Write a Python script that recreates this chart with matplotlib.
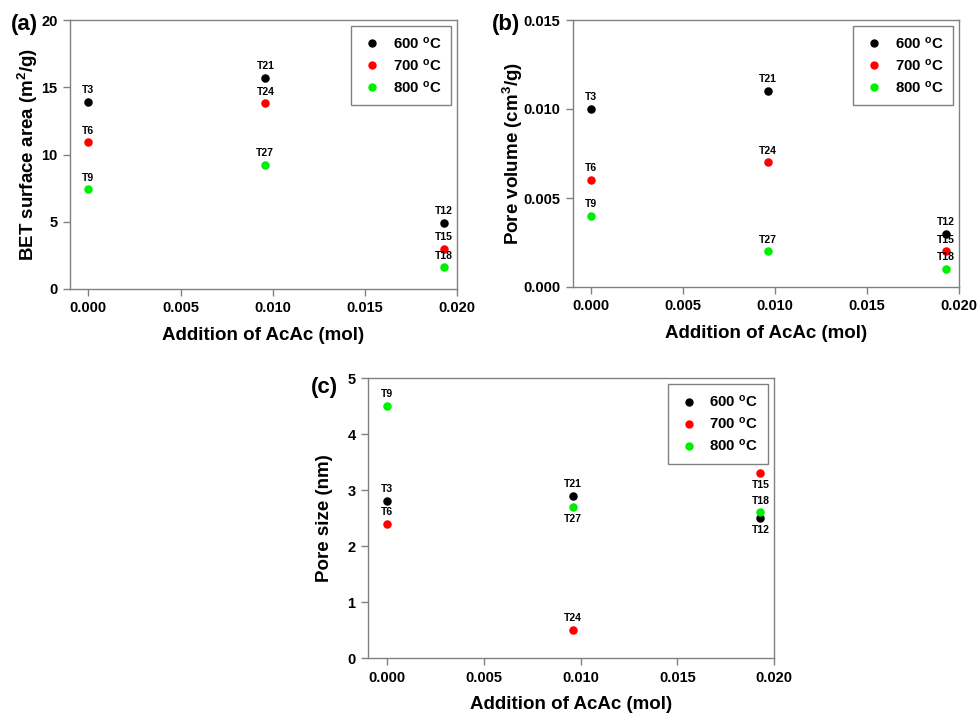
import matplotlib
matplotlib.use("Agg")
import matplotlib.pyplot as plt
from matplotlib.lines import Line2D

plt.rcParams['font.family'] = ['Liberation Sans', 'DejaVu Sans']
plt.rcParams['font.weight'] = 'bold'
plt.rcParams['mathtext.fontset'] = 'custom'
plt.rcParams['mathtext.rm'] = 'Liberation Sans:bold'
plt.rcParams['mathtext.it'] = 'Liberation Sans:bold'
plt.rcParams['mathtext.bf'] = 'Liberation Sans:bold'

# Data
x_vals = [0.0, 0.0096, 0.0193]
temps = ['600', '700', '800']
colors = ['black', '#ff0000', '#00ee00']

labels_600 = ['T3', 'T21', 'T12']
labels_700 = ['T6', 'T24', 'T15']
labels_800 = ['T9', 'T27', 'T18']

bet_600 = [13.9, 15.7, 4.9]
bet_700 = [10.9, 13.8, 3.0]
bet_800 = [7.4, 9.2, 1.6]

pv_600 = [0.010, 0.011, 0.003]
pv_700 = [0.006, 0.007, 0.002]
pv_800 = [0.004, 0.002, 0.001]

ps_600 = [2.8, 2.9, 2.5]
ps_700 = [2.4, 0.5, 3.3]
ps_800 = [4.5, 2.7, 2.6]

W, H = 977, 716
fig = plt.figure(figsize=(W / 100, H / 100), dpi=100)


def make_ax(l, r, t, b):
    return fig.add_axes([l / W, 1 - b / H, (r - l) / W, (b - t) / H])


spine_col = '#808080'


def style(ax, ylim, yticks, yfmt, ylabel, panel, lab_pad, panel_x, panel_y):
    ax.set_xlim(-0.001, 0.020)
    ax.set_ylim(*ylim)
    ax.set_xticks([0.0, 0.005, 0.010, 0.015, 0.020])
    ax.set_xticklabels(['0.000', '0.005', '0.010', '0.015', '0.020'])
    ax.set_yticks(yticks)
    ax.set_yticklabels([yfmt.format(v) for v in yticks])
    for s in ax.spines.values():
        s.set_color(spine_col)
        s.set_linewidth(1.0)
    ax.tick_params(direction='out', length=5, width=1, color=spine_col,
                   labelsize=10.5, pad=4)
    for lbl in ax.get_xticklabels() + ax.get_yticklabels():
        lbl.set_fontweight('bold')
    ax.set_xlabel('Addition of AcAc (mol)', fontsize=13.5, fontweight='bold', labelpad=8)
    ax.set_ylabel(ylabel, fontsize=13.5, fontweight='bold', labelpad=lab_pad)
    ax.text(panel_x, panel_y, panel, transform=ax.transAxes, ha='right', va='center',
            fontsize=16, fontweight='bold')
    handles = [Line2D([], [], marker='o', linestyle='none', color=c, markersize=5)
               for c in colors]
    names = [t + r' $^{\mathrm{o}}$C' for t in temps]
    leg = ax.legend(handles, names, loc='upper right', bbox_to_anchor=(0.984, 0.978),
                    borderaxespad=0, fancybox=False, frameon=True, edgecolor=spine_col,
                    framealpha=1, fontsize=10.8, labelspacing=0.4, handletextpad=0.6,
                    borderpad=0.65, handlelength=1.5)
    leg.get_frame().set_linewidth(1.0)
    for t in leg.get_texts():
        t.set_fontweight('bold')


def plot_series(ax, ys, labels, color, positions):
    ax.scatter(x_vals, ys, s=26, color=color, zorder=3, clip_on=False)
    for x, y, lab, pos in zip(x_vals, ys, labels, positions):
        dy = 8.5 if pos == 'above' else -8.5
        ax.annotate(lab, (x, y), xytext=(0, dy), textcoords='offset points',
                    ha='center', va='center', fontsize=7.5, fontweight='bold')


# Panel (a)
axa = make_ax(70, 457, 20, 289)
style(axa, (0, 20), [0, 5, 10, 15, 20], '{:g}', r'BET surface area (m$^{2}$/g)', '(a)', 1,
      -0.083, 0.985)
plot_series(axa, bet_600, labels_600, colors[0], ['above'] * 3)
plot_series(axa, bet_700, labels_700, colors[1], ['above'] * 3)
plot_series(axa, bet_800, labels_800, colors[2], ['above'] * 3)

# Panel (b)
axb = make_ax(573, 959, 20, 287)
style(axb, (0, 0.015), [0.0, 0.005, 0.010, 0.015], '{:.3f}', r'Pore volume (cm$^{3}$/g)', '(b)', -1,
      -0.137, 0.985)
plot_series(axb, pv_600, labels_600, colors[0], ['above'] * 3)
plot_series(axb, pv_700, labels_700, colors[1], ['above'] * 3)
plot_series(axb, pv_800, labels_800, colors[2], ['above'] * 3)

# Panel (c)
axc = make_ax(368, 774, 378, 658)
style(axc, (0, 5), [0, 1, 2, 3, 4, 5], '{:g}', 'Pore size (nm)', '(c)', 10,
      -0.074, 0.967)
plot_series(axc, ps_600, labels_600, colors[0], ['above', 'above', 'below'])
plot_series(axc, ps_700, labels_700, colors[1], ['above', 'above', 'below'])
plot_series(axc, ps_800, labels_800, colors[2], ['above', 'below', 'above'])

fig.savefig('out.png', dpi=100)
